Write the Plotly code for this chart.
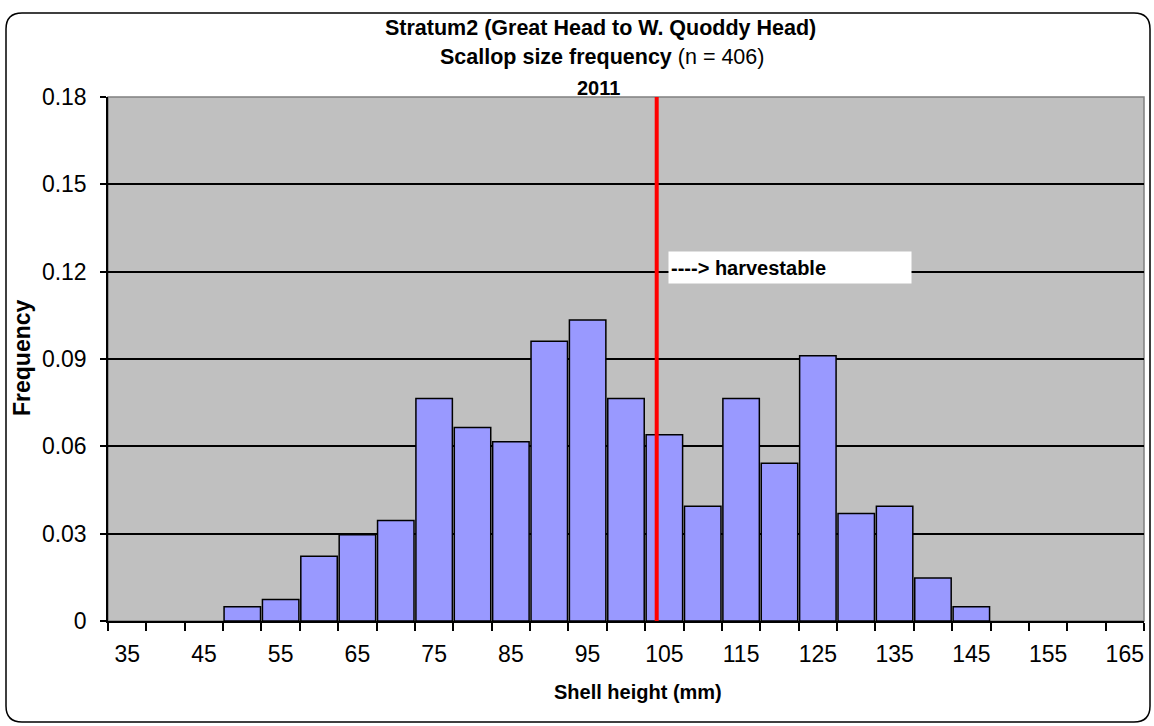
import plotly.graph_objects as go

# Shell height classes (mm) and their relative frequency, 2011, stratum 2
SIZE_CLASSES = [50, 55, 60, 65, 70, 75, 80, 85, 90, 95,
                100, 105, 110, 115, 120, 125, 130, 135, 140, 145]
FREQUENCY = [0.0049, 0.0074, 0.0222, 0.0296, 0.0345, 0.0764, 0.0665, 0.0616, 0.0961, 0.1034,
             0.0764, 0.0640, 0.0394, 0.0764, 0.0542, 0.0911, 0.0369, 0.0394, 0.0148, 0.0049]
TICK_LABELS = ["35", "45", "55", "65", "75", "85", "95", "105",
               "115", "125", "135", "145", "155", "165"]
HARVEST_SIZE = 104  # legal size threshold (mm)
N_SCALLOPS = 406

FONT = "Liberation Sans, Arial, sans-serif"
W, H = 1154, 726
L, R, T, B = 108, 10, 97, 105
PW, PH = W - L - R, H - T - B


def px_x(px):
    # pixel -> paper x
    return (px - L) / PW


def px_y(py):
    # pixel -> paper y
    return (H - B - py) / PH


def rounded_box(x0, y0, x1, y1, r):
    '''SVG path (paper coords) for a rounded rectangle given in pixels.'''
    pts = [
        f"M {px_x(x0 + r)},{px_y(y0)}",
        f"L {px_x(x1 - r)},{px_y(y0)}",
        f"Q {px_x(x1)},{px_y(y0)} {px_x(x1)},{px_y(y0 + r)}",
        f"L {px_x(x1)},{px_y(y1 - r)}",
        f"Q {px_x(x1)},{px_y(y1)} {px_x(x1 - r)},{px_y(y1)}",
        f"L {px_x(x0 + r)},{px_y(y1)}",
        f"Q {px_x(x0)},{px_y(y1)} {px_x(x0)},{px_y(y1 - r)}",
        f"L {px_x(x0)},{px_y(y0 + r)}",
        f"Q {px_x(x0)},{px_y(y0)} {px_x(x0 + r)},{px_y(y0)} Z",
    ]
    return " ".join(pts)


def label(text, x, y, size, **kw):
    fig.add_annotation(xref="paper", yref="paper", x=px_x(x), y=px_y(y),
                       xanchor="center", yanchor="middle", text=text,
                       showarrow=False, font=dict(size=size), **kw)


fig = go.Figure()

fig.add_trace(go.Bar(
    x=SIZE_CLASSES,
    y=FREQUENCY,
    marker=dict(color="#9999FF", line=dict(color="black", width=1.5)),
    hovertemplate="%{x} mm: %{y:.4f}<extra></extra>",
))

tick_vals = [int(t) for t in TICK_LABELS]

fig.update_layout(
    width=W, height=H,
    margin=dict(l=L, r=R, t=T, b=B),
    paper_bgcolor="white",
    plot_bgcolor="#C0C0C0",
    bargap=0.05,
    showlegend=False,
    font=dict(family=FONT, color="black", size=20),
    xaxis=dict(
        range=[32.5, 167.5],
        tickvals=tick_vals,
        ticktext=TICK_LABELS,
        ticks="",
        showgrid=False,
        zeroline=False,
        showline=True, linecolor="black", linewidth=1.5,
        tickfont=dict(size=23),
        ticklabelstandoff=12,
        minor=dict(tick0=32.5, dtick=5, ticks="outside", ticklen=8,
                   tickcolor="black", tickwidth=1.5, showgrid=False),
    ),
    yaxis=dict(
        range=[0, 0.18],
        dtick=0.03,
        ticks="outside", ticklen=6, tickcolor="black", tickwidth=1.5,
        showgrid=True, gridcolor="black", gridwidth=1.5,
        zeroline=False,
        showline=True, linecolor="black", linewidth=1.5,
        tickfont=dict(size=23),
        ticklabelstandoff=9,
    ),
)

# plot-area border (gray top/right) and outer rounded frame
fig.add_shape(type="rect", xref="paper", yref="paper", x0=0, x1=1, y0=0, y1=1,
              line=dict(color="#808080", width=1.5), layer="below")
fig.add_shape(type="path", xref="paper", yref="paper",
              path=rounded_box(6, 13, 1150, 722, 16),
              line=dict(color="black", width=1.5))

# harvestable threshold
fig.add_shape(type="line", xref="x", yref="y domain",
              x0=HARVEST_SIZE, x1=HARVEST_SIZE, y0=0, y1=1,
              line=dict(color="red", width=4))

fig.add_annotation(
    xref="paper", yref="paper", x=px_x(668), y=px_y(267),
    xanchor="left", yanchor="middle",
    text="<b>----> harvestable</b>", align="left",
    width=238, height=27, bgcolor="white", borderpad=2,
    showarrow=False, font=dict(size=20),
)

# titles
label("<b>Stratum2 (Great Head to W. Quoddy Head)</b>", 600, 28, 21.5)
label(f"<b>Scallop size frequency</b> (n = {N_SCALLOPS})", 602, 57, 21.5)
label("<b>2011</b>", 598, 88, 20)

# axis titles
label("<b>Shell height (mm)</b>", 638, 692, 20)
label("<b>Frequency</b>", 22, 358, 23, textangle=-90)

# the page's default body margin would push the fixed-size figure off by 8px
fig.write_html("out.html", post_script="document.body.style.margin='0';",
               config={"displayModeBar": False})
